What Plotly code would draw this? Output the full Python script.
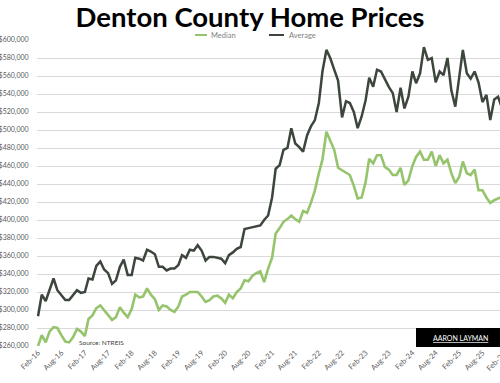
import pandas as pd
import plotly.graph_objects as go

# Monthly values, Feb-2016 .. Feb-2026 (in $ thousands)
average_k = [293, 317, 310, 322, 335, 322, 317, 311, 311, 316, 322, 319,
             320, 335, 334, 349, 354, 345, 341, 329, 333, 348, 356, 339,
             339, 358, 357, 355, 367, 365, 362, 348, 348, 344, 346, 346,
             350, 361, 358, 367, 366, 372, 366, 355, 359, 359, 358, 357,
             352, 361, 364, 368, 370, 390, 391, 392, 393, 394, 400, 405,
             425, 457, 461, 478, 480, 502, 485, 481, 476, 494, 504, 511,
             530, 565, 589, 580, 567, 555, 514, 532, 530, 520, 502, 515,
             533, 558, 548, 567, 565, 556, 548, 541, 520, 547, 524, 537,
             565, 552, 563, 592, 578, 580, 553, 565, 561, 580, 544, 526,
             558, 589, 563, 557, 565, 553, 531, 539, 511, 534, 537, 524,
             530]
median_k = [260, 272, 264, 276, 281, 280, 272, 265, 264, 270, 279, 276,
            271, 290, 294, 302, 305, 300, 294, 289, 292, 303, 297, 292,
            301, 317, 314, 315, 324, 317, 312, 300, 305, 304, 300, 298,
            304, 315, 317, 320, 320, 320, 315, 309, 311, 315, 316, 313,
            308, 317, 313, 320, 324, 333, 332, 338, 341, 343, 331, 346,
            358, 385, 391, 398, 401, 405, 401, 398, 410, 408, 419, 433,
            452, 467, 498, 488, 478, 458, 455, 453, 450, 438, 424, 425,
            442, 468, 463, 472, 472, 459, 456, 450, 450, 458, 439, 444,
            460, 470, 476, 467, 467, 476, 460, 472, 463, 467, 452, 441,
            448, 465, 452, 450, 456, 433, 433, 425, 419, 422, 424, 426,
            428]
months = pd.date_range("2016-02-01", periods=len(average_k), freq="MS")
average = [v * 1000 for v in average_k]
median = [v * 1000 for v in median_k]

tick_dates = pd.date_range("2016-02-01", "2026-02-01", freq="6MS")
tick_labels = ["Feb-16", "Aug-16", "Feb-17", "Aug-17", "Feb-18", "Aug-18",
               "Feb-19", "Aug-19", "Feb-20", "Aug-20", "Feb-21", "Aug-21",
               "Feb-22", "Aug-22", "Feb-23", "Aug-23", "Feb-24", "Aug-24",
               "Feb-25", "Aug-25", "Feb-26"]

FONT = "Lato"
AVG_COLOR = "#3d463c"
MED_COLOR = "#95c46c"

fig = go.Figure()
fig.add_trace(go.Scatter(x=months, y=median, mode="lines", name="Median",
                         line=dict(color=MED_COLOR, width=2.6)))
fig.add_trace(go.Scatter(x=months, y=average, mode="lines", name="Average",
                         line=dict(color=AVG_COLOR, width=2.5)))

W, H = 500, 383
L, R, T, B = 37, 0, 40, 37
pw, ph = W - L - R, H - T - B


def px(x):
    return (x - L) / pw


def py(y):
    return (H - B - y) / ph


fig.update_layout(
    width=W, height=H,
    margin=dict(l=L, r=R, t=T, b=B, pad=0, autoexpand=False),
    paper_bgcolor="white", plot_bgcolor="white",
    showlegend=False,
    title=dict(text="<b>Denton County Home Prices</b>", x=0.5, xref="container",
               xanchor="center", y=1 - 17 / H, yanchor="middle",
               font=dict(family=FONT, size=27.5, color="#000000")),
    xaxis=dict(
        type="date", automargin=False,
        range=["2016-01-24", "2025-12-16"],
        tickvals=list(tick_dates), ticktext=tick_labels,
        tickangle=-45, showgrid=False, zeroline=False, showline=False,
        ticks="", tickfont=dict(family=FONT, size=7.5, color="#595959"),
    ),
    yaxis=dict(
        automargin=False,
        range=[260000, 600000], dtick=20000, tick0=260000,
        tickformat="$,.0f", showgrid=True, gridcolor="#d9d9d9", gridwidth=1,
        zeroline=False, showline=False,
        ticks="outside", ticklen=6, tickcolor="rgba(0,0,0,0)",
        tickfont=dict(family=FONT, size=7, color="#595959"),
    ),
)

# last month tick label sits just past the right edge of the chart (cut off)
fig.add_annotation(text=tick_labels[-1], xref="paper", yref="paper",
                   x=px(496), y=py(361), xanchor="center", yanchor="middle",
                   textangle=-45, showarrow=False,
                   font=dict(family=FONT, size=7.5, color="#595959"))

# legend drawn as line samples + labels
for x0, x1, col, label, tx in [(195, 207, MED_COLOR, "Median", 209),
                               (269, 284, AVG_COLOR, "Average", 287)]:
    fig.add_shape(type="line", xref="paper", yref="paper",
                  x0=px(x0), x1=px(x1), y0=py(35), y1=py(35),
                  line=dict(color=col, width=2))
    fig.add_annotation(text=label, xref="paper", yref="paper", x=px(tx), y=py(35),
                       xanchor="left", yanchor="middle", showarrow=False,
                       font=dict(family=FONT, size=7.5, color="#7f7f7f"))

fig.add_annotation(text="Source: NTREIS", xref="paper", yref="paper",
                   x=px(77), y=py(342), xanchor="left", yanchor="middle",
                   showarrow=False, font=dict(family=FONT, size=6.5, color="#404040"))

fig.add_shape(type="rect", xref="paper", yref="paper",
              x0=px(416), x1=px(505), y0=py(347), y1=py(328),
              fillcolor="#000000", line=dict(width=0), layer="above")
fig.add_annotation(text="<u>AARON LAYMAN</u>", xref="paper", yref="paper",
                   x=px(460), y=py(337.5), xanchor="center", yanchor="middle",
                   showarrow=False, font=dict(family=FONT, size=7, color="#ffffff"))

fig.write_html("out.html",
               config={"displayModeBar": False},
               post_script="document.body.style.margin='0';"
                           "document.body.style.padding='0';")
